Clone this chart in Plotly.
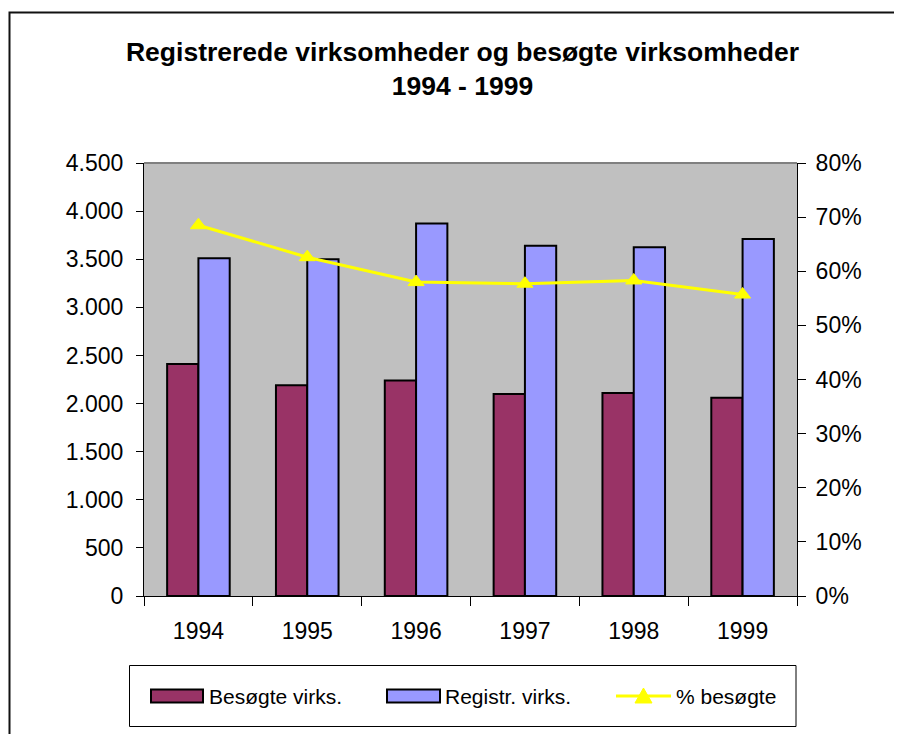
import plotly.graph_objects as go

years = ["1994", "1995", "1996", "1997", "1998", "1999"]
besogte = [2410, 2190, 2240, 2100, 2110, 2060]
registr = [3510, 3500, 3870, 3640, 3625, 3710]
pct_besogte = [68.5, 62.6, 58.0, 57.7, 58.3, 55.7]

FONT = "Liberation Sans, Arial, sans-serif"
MAROON = "#993366"
BLUE = "#9999FF"
YELLOW = "#FFFF00"

# page is rendered with an 8px body margin; figure sized to fit the window
W, H = 894, 726
PL, PR, PT, PB = 144, 797, 163, 596  # plot area in page pixels
ML, MR, MT, MB = PL - 8, W - (PR - 8), PT - 8, H - (PB - 8)
PW, PH = PR - PL, PB - PT


def px(x):
    return (x - PL) / PW


def py(y):
    return (PB - y) / PH


fig = go.Figure()
fig.add_trace(go.Bar(
    x=years, y=besogte, name="Besøgte virks.",
    marker=dict(color=MAROON, line=dict(color="black", width=2)),
))
fig.add_trace(go.Bar(
    x=years, y=registr, name="Registr. virks.",
    marker=dict(color=BLUE, line=dict(color="black", width=2)),
))
fig.add_trace(go.Scatter(
    x=years, y=pct_besogte, name="% besøgte", yaxis="y2",
    mode="lines+markers",
    line=dict(color=YELLOW, width=3),
    marker=dict(symbol="triangle-up", size=14, color=YELLOW,
                line=dict(color=YELLOW, width=1)),
))

# custom legend (page-pixel geometry converted to paper coords)
sw_y0, sw_y1, ly = 689.5, 702.5, 696
shapes = [
    # plot area top border (grey)
    dict(type="line", xref="paper", yref="paper", x0=0, x1=1, y0=1, y1=1,
         line=dict(color="#808080", width=2), layer="above"),
    # chart outer border
    dict(type="rect", xref="paper", yref="paper",
         x0=px(9.5), x1=px(920), y0=py(760), y1=py(12.5),
         line=dict(color="#111111", width=2), layer="below"),
    # legend box
    dict(type="rect", xref="paper", yref="paper",
         x0=px(129.5), x1=px(796), y0=py(726.5), y1=py(665.5),
         line=dict(color="black", width=1), fillcolor="white", layer="below"),
    dict(type="rect", xref="paper", yref="paper",
         x0=px(151), x1=px(203), y0=py(sw_y1), y1=py(sw_y0),
         line=dict(color="black", width=2), fillcolor=MAROON),
    dict(type="rect", xref="paper", yref="paper",
         x0=px(387), x1=px(440), y0=py(sw_y1), y1=py(sw_y0),
         line=dict(color="black", width=2), fillcolor=BLUE),
    dict(type="line", xref="paper", yref="paper",
         x0=px(616), x1=px(671), y0=py(ly), y1=py(ly),
         line=dict(color=YELLOW, width=3)),
    dict(type="path", xref="paper", yref="paper",
         path=f"M {px(635):.5f},{py(703):.5f} L {px(652):.5f},{py(703):.5f} "
              f"L {px(643.5):.5f},{py(688):.5f} Z",
         line=dict(color=YELLOW, width=1), fillcolor=YELLOW),
]

annotations = [
    dict(text=t, xref="paper", yref="paper", x=px(xl), y=py(ly),
         xanchor="left", yanchor="middle", showarrow=False,
         font=dict(family=FONT, size=21, color="black"))
    for t, xl in [("Besøgte virks.", 207), ("Registr. virks.", 443), ("% besøgte", 674)]
]

fig.update_layout(
    width=W, height=H,
    margin=dict(l=ML, r=MR, t=MT, b=MB),
    paper_bgcolor="white",
    plot_bgcolor="#C0C0C0",
    separators=",.",
    font=dict(family=FONT, size=23, color="black"),
    title=dict(
        text="<b>Registrerede virksomheder og besøgte virksomheder<br>1994 - 1999</b>",
        x=px(462.5), xanchor="center", xref="paper",
        y=1 - 53 / H, yanchor="top", yref="container",
        font=dict(family=FONT, size=26.5, color="black"),
    ),
    barmode="group",
    bargap=0.425,
    bargroupgap=0,
    showlegend=False,
    xaxis=dict(
        type="category",
        showline=True, linecolor="black", linewidth=1,
        ticks="outside", tickson="boundaries", ticklen=9, tickcolor="black",
        ticklabelstandoff=14,
        showgrid=False, zeroline=False,
        tickfont=dict(size=23),
    ),
    yaxis=dict(
        range=[0, 4500], dtick=500, tickformat=",.0f",
        showline=True, linecolor="black", linewidth=1,
        ticks="outside", ticklen=7, tickcolor="black",
        ticklabelstandoff=8,
        showgrid=False, zeroline=False,
        tickfont=dict(size=23),
    ),
    yaxis2=dict(
        range=[0, 80], dtick=10, ticksuffix="%",
        overlaying="y", side="right",
        showline=True, linecolor="black", linewidth=1,
        ticks="outside", ticklen=8, tickcolor="black",
        ticklabelstandoff=5,
        showgrid=False, zeroline=False,
        tickfont=dict(size=23),
    ),
    shapes=shapes,
    annotations=annotations,
)

fig.write_html("out.html")
